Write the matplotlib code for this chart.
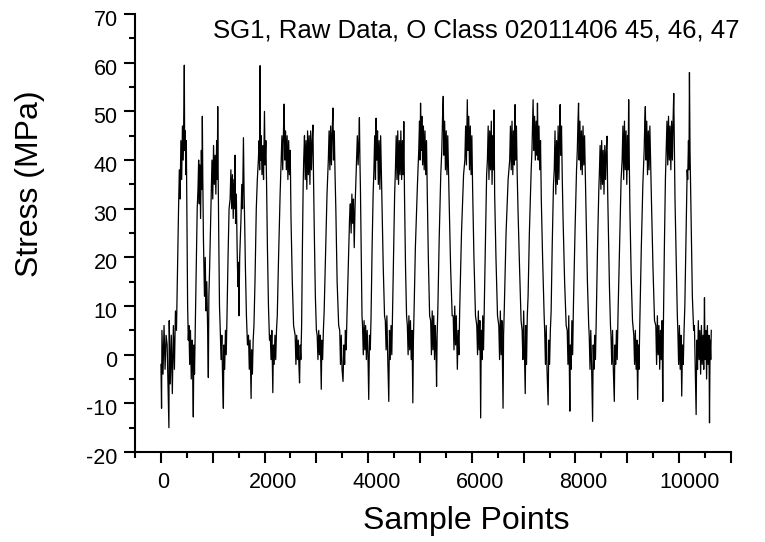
import matplotlib.pyplot as plt
from matplotlib.ticker import MultipleLocator, FuncFormatter
from matplotlib.transforms import ScaledTranslation

plt.rcParams['font.family'] = ['Liberation Sans', 'DejaVu Sans']
plt.rcParams['axes.unicode_minus'] = False

# Sample index / stress (MPa)
sample_idx = [
    0, 12, 20, 40, 60, 80, 100, 120, 154, 160, 180, 200, 220, 240, 260, 280, 300,
    320, 340, 355, 370, 385, 400, 415, 430, 445, 451, 458, 470, 480, 490, 500, 515, 528,
    540, 555, 570, 585, 600, 612, 625, 635, 648, 660, 680, 700,
    715, 728, 740, 752, 765, 780, 792, 799, 808, 820,
    840, 855, 870, 885, 900, 915, 925, 940, 955,
    970, 985, 1000, 1015, 1030, 1045, 1060, 1075, 1088, 1096, 1104, 1115, 1130,
    1145, 1160, 1175, 1190, 1205, 1215, 1230, 1245, 1260, 1275, 1295, 1315,
    1335, 1350, 1365, 1380, 1395, 1410, 1425, 1431, 1440, 1455, 1470,
    1485, 1495, 1505, 1520,
    1545, 1560, 1575, 1592, 1605, 1618, 1630, 1650, 1670,
    1690, 1705, 1720, 1740, 1750, 1765, 1780, 1795, 1815, 1840, 1860,
    1880, 1895, 1905, 1914, 1922, 1935, 1950, 1965, 1980, 1998, 2010, 2025, 2040, 2055, 2075, 2095,
    2110, 2125, 2140, 2159, 2170, 2185, 2200, 2215, 2230, 2245, 2270, 2300,
    2320, 2335, 2350, 2365, 2378, 2390, 2405, 2420, 2435, 2450, 2465, 2480, 2495, 2510, 2535, 2560,
    2590, 2605, 2620, 2635, 2650, 2662, 2675, 2688, 2700, 2715, 2730, 2745,
    2755, 2770, 2785, 2800, 2815, 2830, 2845, 2860, 2875, 2890, 2905, 2920, 2933, 2945, 2960, 2980, 3000,
    3015, 3030, 3045, 3060, 3075, 3094, 3105, 3120, 3135, 3150, 3175, 3205,
    3230, 3245, 3260, 3275, 3290, 3305, 3320, 3330, 3345, 3360, 3375, 3400, 3430,
    3450, 3465, 3480, 3495, 3514, 3530, 3545, 3560, 3575, 3590, 3620, 3640,
    3655, 3670, 3685, 3700, 3715, 3730, 3745, 3760,
    3775, 3790, 3805, 3820, 3830, 3840, 3850, 3865, 3880,
    3890, 3905, 3920, 3935, 3950, 3965, 3980, 3995, 4010, 4025, 4040, 4055, 4075, 4095,
    4110, 4125, 4140, 4152, 4165, 4180, 4195, 4210, 4225, 4240, 4255, 4270, 4290, 4315,
    4330, 4345, 4360, 4375, 4397, 4410, 4425, 4440, 4455, 4470, 4490, 4510,
    4525, 4540, 4555, 4570, 4585, 4600, 4615, 4630, 4645, 4660, 4675, 4687, 4700, 4720, 4740,
    4755, 4770, 4785, 4800, 4815, 4830, 4845, 4861, 4872, 4885, 4910, 4950,
    4975, 4990, 5000, 5010, 5022, 5035, 5050, 5065, 5080, 5095, 5110, 5125, 5140, 5160, 5185,
    5205, 5220, 5235, 5250, 5265, 5280, 5295, 5308, 5319, 5330, 5345, 5370, 5400,
    5420, 5435, 5448, 5460, 5475, 5490, 5505, 5520, 5535, 5550, 5565, 5590, 5620,
    5640, 5655, 5670, 5685, 5700, 5720, 5735, 5750, 5765, 5800, 5840,
    5865, 5880, 5895, 5912, 5925, 5940, 5955, 5970, 5985, 6000, 6015, 6040, 6070,
    6095, 6110, 6125, 6140, 6155, 6170, 6182, 6195, 6210, 6225, 6240, 6265, 6285,
    6300, 6315, 6330, 6345, 6360, 6375, 6390, 6405, 6418, 6428, 6440, 6465, 6495,
    6520, 6535, 6550, 6565, 6580, 6592, 6602, 6612, 6625, 6660, 6700,
    6730, 6745, 6760, 6775, 6790, 6805, 6820, 6834, 6845, 6860, 6875, 6890, 6920, 6950,
    6970, 6985, 7000, 7015, 7030, 7042, 7055, 7070, 7085, 7110, 7145,
    7160, 7172, 7182, 7195, 7210, 7225, 7240, 7255, 7266, 7280, 7295, 7310, 7325, 7340, 7365, 7395,
    7405, 7420, 7435, 7450, 7472, 7485, 7500, 7515, 7530, 7550, 7575,
    7590, 7605, 7620, 7635, 7650, 7665, 7680, 7692, 7704, 7715, 7730, 7745, 7760, 7790, 7820,
    7840, 7855, 7870, 7891, 7900, 7915, 7930, 7945, 7960, 7990, 8020,
    8035, 8048, 8059, 8070, 8085, 8100, 8115, 8130, 8145, 8160, 8175, 8190, 8205, 8230, 8255,
    8265, 8280, 8295, 8310, 8330, 8342, 8355, 8370, 8385, 8400, 8425, 8450,
    8460, 8475, 8490, 8505, 8520, 8535, 8550, 8565, 8580, 8595, 8607, 8620, 8635, 8655, 8675,
    8685, 8700, 8715, 8730, 8749, 8760, 8775, 8790, 8805, 8820, 8850, 8880,
    8900, 8915, 8930, 8945, 8960, 8975, 8990, 9005, 9015, 9026, 9038, 9050, 9075, 9100,
    9125, 9140, 9155, 9170, 9185, 9200, 9212, 9225, 9240, 9270, 9300,
    9325, 9338, 9348, 9360, 9375, 9390, 9405, 9420, 9435, 9450, 9465, 9495, 9525,
    9550, 9565, 9580, 9595, 9610, 9625, 9640, 9655, 9670, 9684, 9695, 9715, 9735,
    9750, 9765, 9780, 9795, 9810, 9825, 9840, 9855, 9870, 9885, 9896, 9908, 9920, 9945, 9965,
    9975, 9990, 10005, 10020, 10035, 10050, 10065, 10080, 10095, 10110, 10135, 10155,
    10165, 10180, 10190, 10199, 10210, 10222, 10235, 10255, 10280,
    10295, 10310, 10328, 10340, 10355, 10370, 10385, 10400, 10415, 10430, 10445, 10460,
    10475, 10489, 10500, 10515, 10530, 10545, 10560, 10575, 10586, 10598, 10610, 10620,
]
stress_mpa = [
    -2, -11, 5, -4, 6, -3, 4, 2, -15, 7, -6, 4, -8, 6, -3, 9, 5,
    18, 30, 38, 32, 44, 36, 47, 40, 51, 59.5, 42, 46, 37, 44, 30, 10, 3,
    6, -2, 5, -5, 3, -3, -12.8, 2, -4, 4, 18, 30,
    34, 40, 31, 39, 28, 42, 34, 49, 36, 24,
    12, 20, 9, 15, 6, -4.7, 12, 18, 25,
    33, 40, 32, 43, 35, 41, 33, 44, 36, 51, 38, 25, 10,
    5, -1, 4, -5, -11, 2, -3, 5, 0, 8, 20, 30,
    32, 38, 30, 37, 28, 36, 30, 41, 27, 33, 22,
    14, 19, 8, 20,
    28, 35, 30, 44.6, 33, 26, 18, 8, 2,
    4, -3, 3, -9, 1, -4, 3, 6, 15, 30, 36,
    40, 44, 38, 59.4, 40, 45, 37, 43, 36, 50, 39, 44, 34, 22, 10, 3,
    4, -1, 5, -7.8, 2, -2, 4, -1, 5, 8, 20, 33,
    40, 45, 38, 46, 51.5, 40, 46, 38, 45, 36, 44, 37, 42, 28, 15, 6,
    4, -2, 4, -1, 3, -2, -5.8, 2, -1, 6, 22, 35,
    40, 45, 36, 44, 34, 46, 37, 45, 35, 46, 38, 44, 47.2, 36, 25, 12, 5,
    4, -1, 5, 0, 4, -7.1, 3, -1, 5, 9, 20, 33,
    40, 46, 38, 47, 39, 46, 50.7, 40, 46, 37, 30, 15, 6,
    5, -2, 4, -3, -5.5, 2, -2, 5, 1, 8, 20, 28,
    31, 25, 33, 27, 32, 22, 30, 35,
    40, 45, 39, 44, 48.7, 40, 34, 20, 8,
    6, 0, 7, 1, 6, -1, 5, 0, -9.2, 4, 1, 8, 22, 33,
    38, 45, 36, 48.6, 40, 46, 35, 44, 34, 45, 37, 30, 18, 8,
    7, 1, 8, 0, -9.6, 5, -1, 6, 0, 9, 22, 33,
    38, 45, 36, 46, 35, 44, 37, 46, 36, 44, 37, 47.9, 33, 18, 8,
    6, 0, 8, 1, 7, -1, 5, -9.9, 3, 9, 22, 35,
    42, 48, 40, 51.7, 42, 49, 39, 47, 38, 46, 37, 44, 33, 20, 8,
    7, 0, 9, 1, 8, -1, 6, 1, -6.5, 4, 10, 24, 37,
    42, 49, 53.1, 41, 48, 38, 46, 37, 45, 38, 30, 18, 8,
    8, 1, 10, 2, 8, -3, 5, 0, 9, 25, 37,
    40, 47, 39, 52.4, 42, 49, 38, 47, 37, 45, 34, 20, 8,
    6, 0, 9, 1, 7, -13, 5, -1, 8, 1, 10, 25, 37,
    40, 47, 36, 46, 38, 48, 35, 45, 38, 50.3, 33, 20, 8,
    6, -1, 9, 0, 7, -2, -11, 4, 9, 25, 36,
    40, 47, 38, 48, 37, 46, 39, 51.4, 40, 47, 37, 30, 18, 7,
    5, -1, 9, 1, -8, 6, -2, 8, 12, 25, 38,
    42, 48, 52.4, 42, 49, 40, 48, 41, 51.7, 40, 47, 38, 44, 32, 20, 8,
    5, -2, 6, -3, -10.3, 3, -2, 5, 9, 22, 35,
    38, 46, 33, 44, 35, 47, 36, 45, 51.4, 41, 47, 36, 28, 15, 6,
    5, -2, 8, -11.6, 2, -3, 7, 0, 10, 25, 38,
    42, 48, 51.7, 40, 48, 38, 46, 37, 47, 39, 45, 37, 30, 15, 6,
    4, -3, 5, -2, -13.7, 2, -3, 4, -1, 7, 22, 34,
    37, 43, 34, 44, 35, 42, 33, 43, 36, 42, 44.9, 34, 25, 14, 6,
    4, -2, 5, -3, -9.6, 2, -2, 5, -1, 8, 22, 36,
    40, 47, 36, 48, 38, 46, 35, 45, 38, 52.4, 40, 30, 16, 7,
    4, -2, 5, -3, 3, -9.2, 2, -3, 6, 22, 35,
    42, 48, 51, 40, 48, 37, 46, 38, 47, 39, 32, 18, 7,
    6, -2, 8, 0, 6, -3, 5, -1, 7, -9.6, 5, 22, 36,
    42, 48, 39, 49, 40, 47, 38, 48, 40, 49, 53.7, 42, 32, 18, 8,
    5, -2, 6, -3, 4, -8.5, 2, -2, 5, 10, 25, 38,
    36, 44, 38, 58, 42, 34, 25, 12, 5,
    6, -2, -12.3, 3, -3, 7, -1, 5, -4, 6, -2, 4,
    -3, 11.7, -1, 5, -5, 6, -2, 4, -14, 3, -1, 5,
]

title_text = "SG1, Raw Data, O Class 02011406 45, 46, 47"

fig = plt.figure(figsize=(7.65, 5.42), dpi=100)
ax = fig.add_axes([0.1765, 0.166, 0.779, 0.808])

ax.plot(sample_idx, stress_mpa, color='black', linewidth=0.9)

ax.set_xlim(-500, 11000)
ax.set_ylim(-20, 70)
ax.xaxis.set_major_locator(MultipleLocator(1000))
ax.xaxis.set_minor_locator(MultipleLocator(500))
ax.xaxis.set_major_formatter(FuncFormatter(lambda v, p: f"{int(v)}" if int(v) % 2000 == 0 else ""))
ax.yaxis.set_major_locator(MultipleLocator(10))
ax.yaxis.set_minor_locator(MultipleLocator(5))

for side in ['top', 'right']:
    ax.spines[side].set_visible(False)
for side in ['left', 'bottom']:
    ax.spines[side].set_linewidth(1.5)
ax.tick_params(which='major', length=8, width=1.5, labelsize=15.5, direction='out')
ax.tick_params(which='minor', length=4.5, width=1.5, direction='out')
ax.tick_params(axis='x', which='major', pad=6.5)
ax.tick_params(axis='y', which='major', pad=4.5)

fig.canvas.draw()
# the original's tick labels sit a little right of / below their ticks
for lab in ax.get_xticklabels():
    n = len(lab.get_text())
    if n:
        dx = (2 + 2 * (n - 1)) / 100
        lab.set_transform(lab.get_transform() + ScaledTranslation(dx, 0, fig.dpi_scale_trans))
for lab in ax.get_yticklabels():
    lab.set_transform(lab.get_transform() + ScaledTranslation(0, -0.04, fig.dpi_scale_trans))

fig.text(0.610, 0.024, "Sample Points", fontsize=23, ha='center', va='baseline')
fig.text(0.039, 0.662, "Stress (MPa)", fontsize=23, rotation=90, ha='center', va='center')
fig.text(0.278, 0.9317, title_text, fontsize=18.5, ha='left', va='baseline')

fig.savefig("out.png", dpi=100)
